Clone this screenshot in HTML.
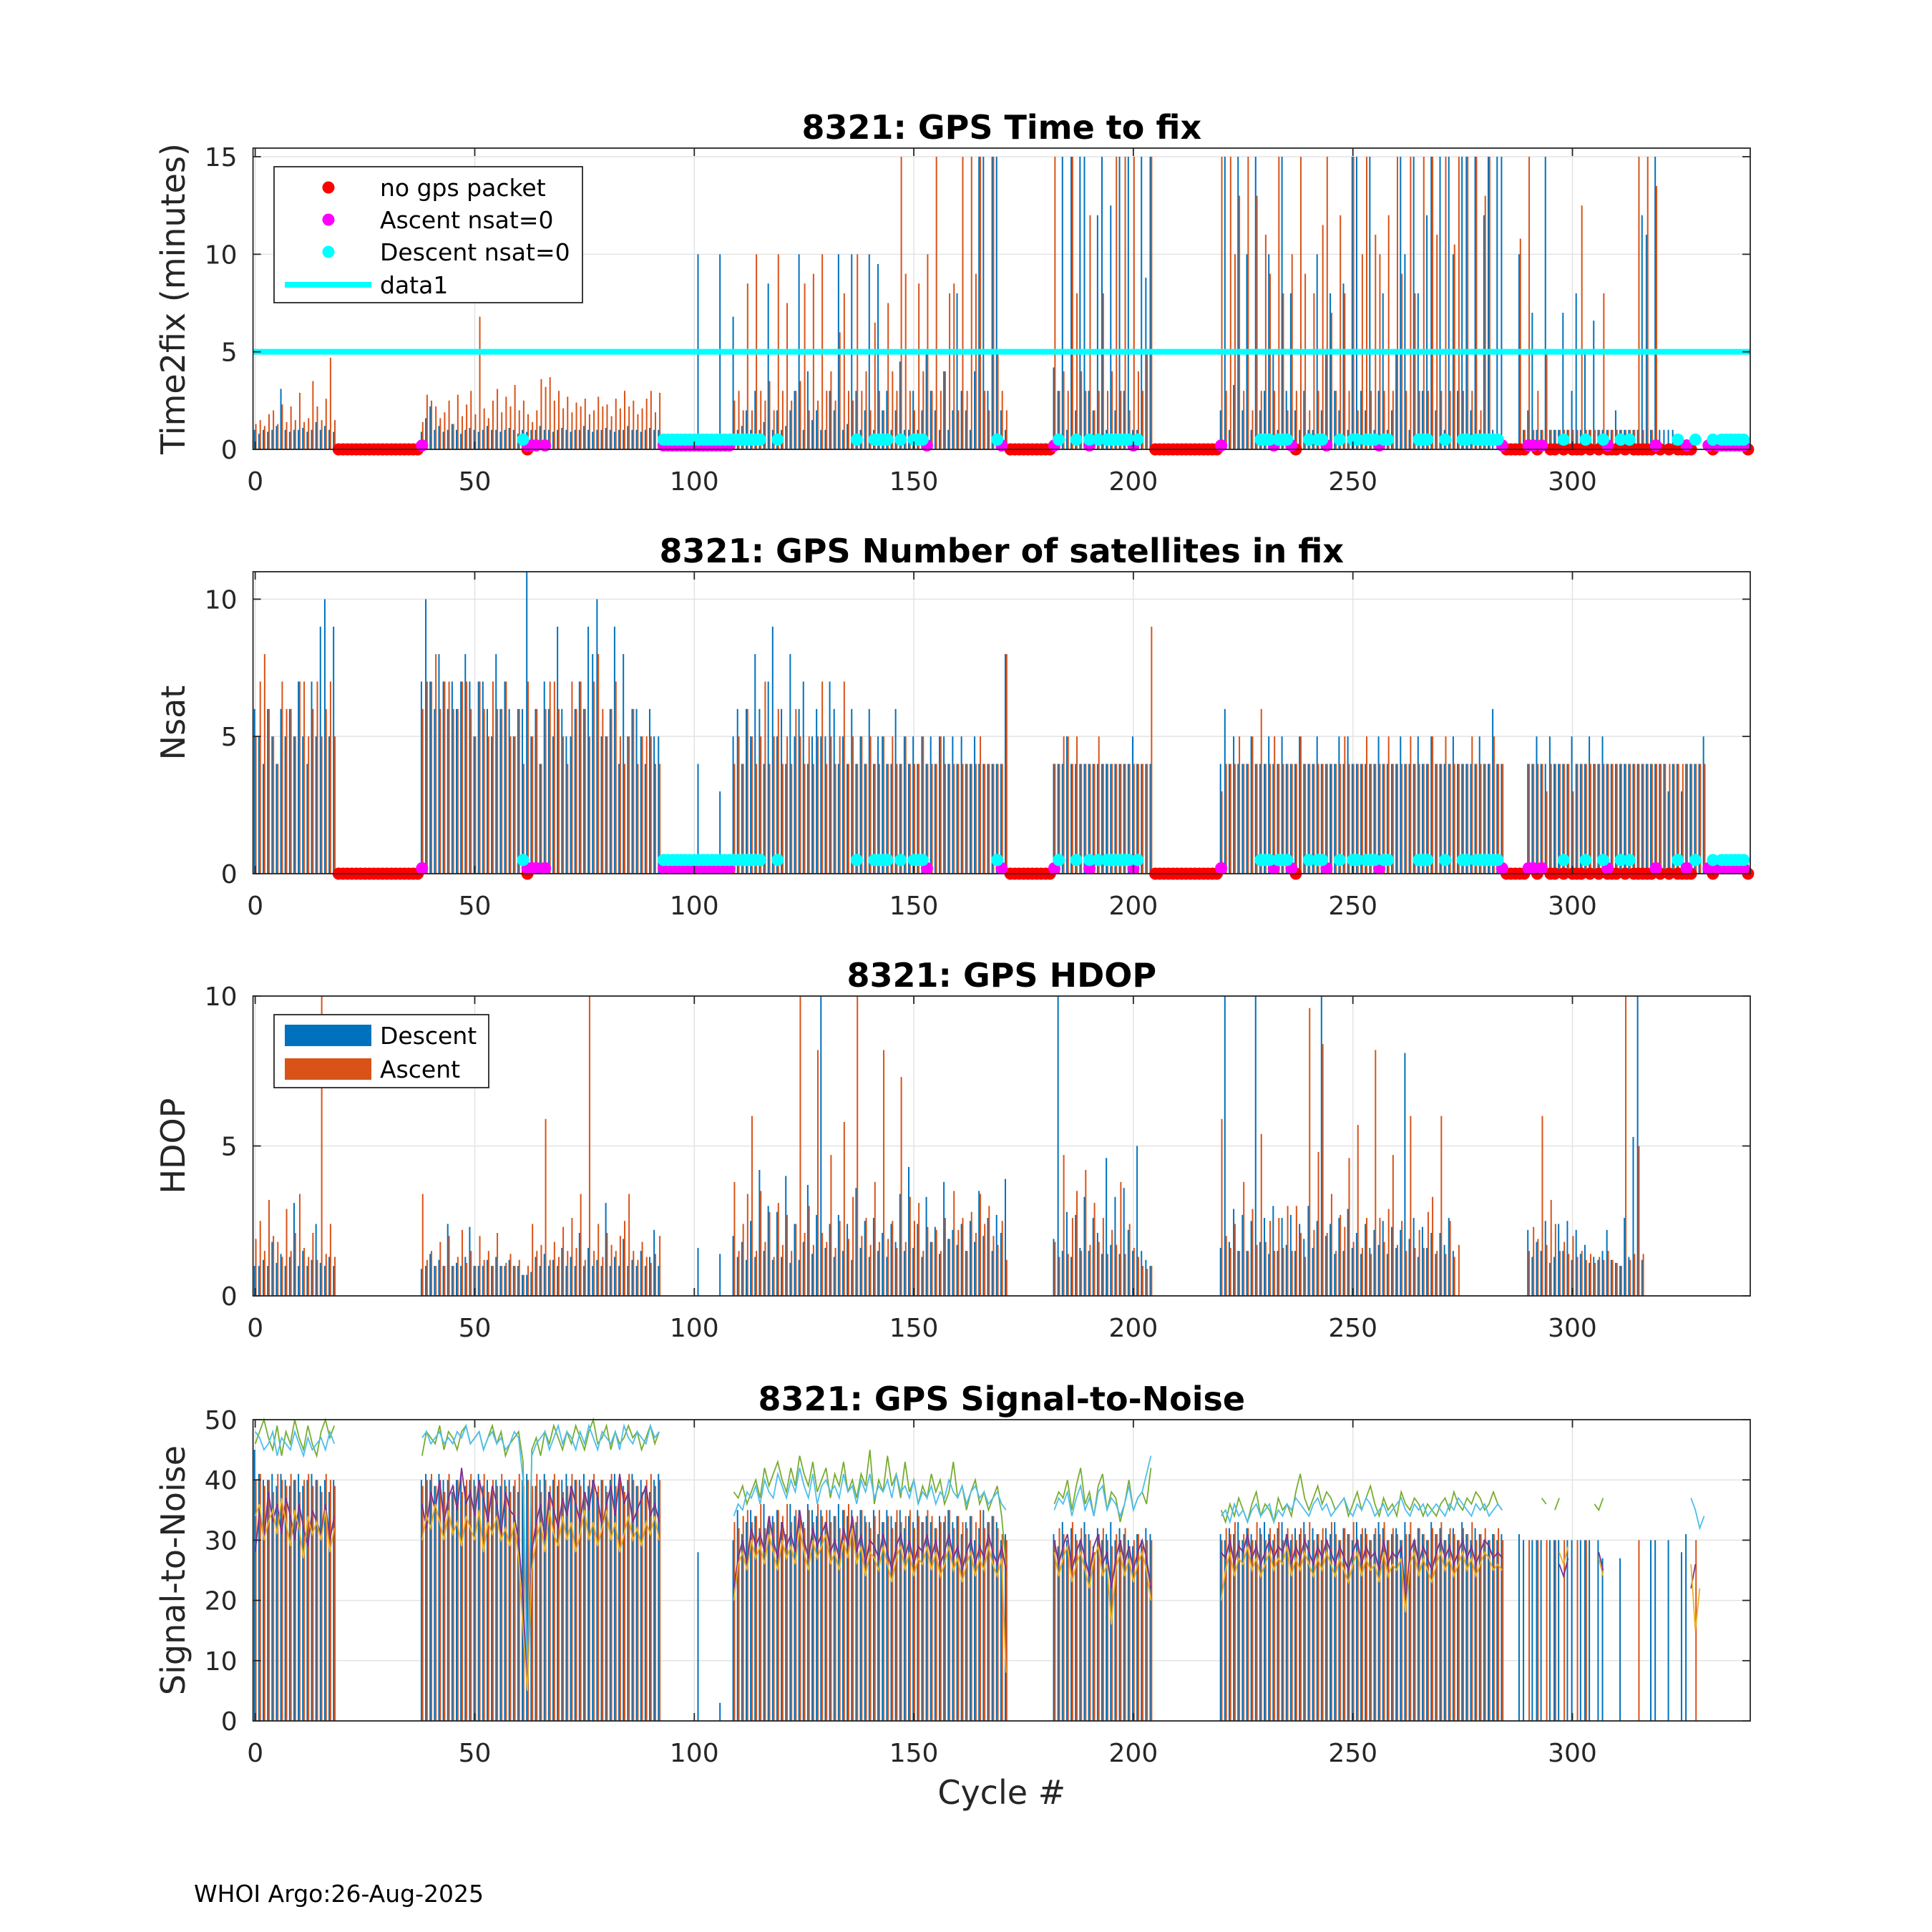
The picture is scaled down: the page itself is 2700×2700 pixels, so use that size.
<!DOCTYPE html>
<html><head><meta charset="utf-8"><style>
html,body{margin:0;padding:0;background:#fff}
svg{display:block;font-family:"DejaVu Sans","Liberation Sans",sans-serif}
</style></head><body>
<svg id="fig" width="2700" height="2700" viewBox="0 0 2700 2700" xmlns="http://www.w3.org/2000/svg">
<rect width="2700" height="2700" fill="#fff"/>
<g id="layer"></g>
<text x="271" y="2658" font-size="33" fill="#000">WHOI Argo:26-Aug-2025</text>
</svg>
<script>
// ---------- data (segments: [startCycle, values]) ----------
const xTicks=[0,50,100,150,200,250,300];
const ttfTicks=[0,5,10,15], nsatTicks=[0,5,10], hdopTicks=[0,5,10], snrTicks=[0,10,20,30,40,50];
const noPacketCycles=[19,20,21,22,23,24,25,26,27,28,29,30,31,32,33,34,35,36,37,62,172,173,174,175,176,177,178,179,180,181,205,206,207,208,209,210,211,212,213,214,215,216,217,218,219,237,285,286,287,288,289,292,295,296,298,300,301,302,304,306,308,309,310,312,314,315,316,317,318,320,322,324,325,326,327,332,340];
const ascNsat0Cycles=[38,62,63,64,66,93,94,95,96,97,98,99,100,101,102,103,104,105,106,107,108,153,170,182,190,200,220,232,236,244,256,284,290,291,293,308,319,326,331,333,334,335,336,337,338,339];
const descNsat0Cycles=[61,93,94,95,96,97,98,99,100,101,102,103,104,105,106,107,108,109,110,111,112,113,114,115,119,137,141,142,143,144,147,150,151,152,169,183,187,190,192,194,195,196,197,198,199,201,229,230,231,233,234,235,240,242,243,247,250,251,253,254,255,257,258,265,266,267,271,275,276,278,279,280,281,282,283,298,303,307,311,313,324,328,332,334,335,336,337,338,339];
const ttfDesc=[[0,[1,.8,1,.9,1,1.2,3.1,1,.9,1,1,1.1,.9,1,1.4,1,1.2,1,.9]],[38,[.9,1.6,2.2,1,1.2,.9,1,1.3,1,.8,1,1.1,1,.9,1,1.2,1,1,.9,1,1.1,1,.8,1,.9,1,1,1.2,1,1,.9,1,1.1,1,.9,1,1,1.2,1,.9,1,1,1.1,1,.9,1,1,1.2,1,1,.9,1,1.1,1,1]],[101,[10]],[106,[10]],[109,[6.8,1,1.2,2,1,3,1,1.4,8.5,1,2,1,1.2,2,3,10,1,4,1.5,2,1,1,3,2,10,1,1.3,10,3,1,2,10,1,9.5,2,3,1,2,4.5,1,1,3,1,2,5,3,2,1,4,1,2,8,3,2,1,4,15,15,3,15,15,2,1]],[182,[4.2,3,15,1,15,2,15,15,3,2,12,15,1,12.5,2,15,3,15,1,1,15,8.8,15]],[220,[2,15,1,3.3,15,2,10,1,15,2,3,10,5,1,15,3,8,2,1,3,1,1,10,2,5,8,3,2,8.5,1,15,15,3,2,15,1,3,8,1,2,5,15,10,1,15,8,3,12,15,2,15,1,15,10,3,15,15,2,15,1,12,15,1,15,15]],[288,[10,1,2,7,1,1,15,1,1,1,7,1,3,8,1,5,1,6.6,1,1,1,1,2,1,1,1,1,1,12,11,1,15,1,1,1,1]]];
const ttfAsc=[[0,[1.3,1.5,1.2,1.8,2,1.3,2.3,1.4,2.2,1.5,2.9,1.4,1.6,3.5,2.2,1.5,2.6,4.7,1.5]],[38,[1.4,2.8,2.5,2.2,1.6,1.9,2.5,1.3,2.8,1.7,2.3,3,1.8,6.8,2.1,1.6,2.5,3.1,1.9,2.7,2.2,3.3,2,2.5,1.8,1.4,2,3.6,3.2,3.7,2.5,3,2.1,2.7,1.9,2.4,2.2,2.6,1.8,2,2.7,2.2,2.3,1.7,2.6,2.1,3,2.2,2.5,1.8,2.1,2.6,3,1.9,2.9]],[109,[2.5,3,2,8.5,2,10,3,2.5,3.5,2,10,3,7.5,2.5,3,3.5,8.5,2,9,2.5,10,3,4,2.5,6,8,3,2.5,10,3,4,2,6.5,3,2,7.5,4,3,15,9,3,2,8.5,4,10,3,15,3,4,8,8.5,2,15,3,15,9,15,3,2,15,5,3,2]],[182,[15,3,4,3,15,8,4,3,12,2,3,8,3,4,15,3,15,2,15,4,3,5,15]],[220,[15,3,15,10,13,3,15,2,13,3,11,9,3,15,8,2,10,3,15,9,2,8,3,11.5,15,7,3,12,8,3,15,2,10,15,3,11,10,3,12,3,15,9,3,15,8,3,15,3,15,11,3,15,3,10.5,15,3,15,3,15,2,13,15]],[288,[10.8,1,15,1,3,1,5,1,1,1,1,1,1,1,12.5,1,1,1,1,8,1,1,1,1,1,1,1,15,1,15,1,13.5]]];
const nsatDesc=[[0,[6,5,4,6,5,4,6,5,6,5,7,5,4,7,5,9,10,5,9]],[38,[7,10,7,6,8,7,6,7,6,7,8,7,5,7,7,6,5,8,6,7,6,5,6,6,11,5,6,4,7,6,5,9,6,5,5,6,7,6,9,8,10,5,5,6,9,4,8,5,6,6,5,4,6,5,5]],[101,[4]],[106,[3]],[109,[5,6,4,6,5,8,6,4,7,9,5,6,4,8,5,6,7,4,5,6,5,5,7,6,4,5,4,6,4,5,4,6,4,5,5,4,4,6,4,5,4,5,4,5,4,5,4,5,5,4,5,4,5,4,4,5,4,4,4,4,4,4,8]],[182,[4,4,4,5,4,4,4,4,4,4,4,4,4,4,4,4,4,4,5,4,4,4,4]],[220,[4,6,4,5,4,4,4,5,4,4,4,5,4,4,5,4,4,4,5,4,4,4,5,4,4,4,4,5,4,5,4,4,4,4,4,4,5,4,4,4,4,5,4,4,4,5,4,4,5,4,4,4,4,5,4,4,4,4,4,5,4,4,6,4,4]],[290,[4,4,5,4,4,5,4,4,4,4,5,4,4,4,5,4,4,5,4,4,4,4,4,4,4,4,4,4,4,4,4,4,3,4,4,3,4,4,4,4,5]]];
const nsatAsc=[[0,[5,7,8,6,5,4,7,6,6,5,7,7,5,6,7,5,6,7,5]],[38,[6,7,7,8,6,7,7,6,6,7,7,6,5,7,6,5,7,6,6,7,5,5,6,4,7,5,6,4,6,7,7,6,5,4,7,6,7,6,5,7,8,6,5,6,7,5,4,5,6,4,5,5,5,4,4]],[109,[4,5,4,6,5,4,5,7,4,5,6,4,5,4,6,5,4,5,4,5,7,4,5,4,5,7,4,5,4,5,4,5,4,4,5,4,5,4,4,5,4,4,4,5,4,4,4,5,4,4,4,4,4,4,4,4,5,4,4,4,4,4,8]],[182,[4,4,5,5,4,5,4,4,4,4,5,4,4,4,4,4,4,4,4,4,4,4,9]],[220,[3,4,4,4,5,4,4,5,4,6,4,4,5,4,4,4,4,4,5,4,4,4,4,4,4,4,4,4,5,4,4,4,4,5,4,4,4,4,5,4,4,4,4,5,4,4,4,4,5,4,4,5,4,4,4,4,4,5,4,4,4,4,5,4,4]],[290,[4,4,4,4,3,4,4,4,4,4,3,4,4,4,4,4,4,4,4,4,4,4,4,4,4,4,4,4,4,4,4,4,4,4,4,4,4,4,4,4,4]]];
const hdopDesc=[[0,[1,1,1.2,1,1.8,1.1,1.4,1,1.3,3.1,1,1.5,1,1.2,2.4,1.1,1,1.3,1]],[38,[.9,1,1.4,1,1.2,1,2.4,1,1.1,1,1.3,2.3,1,1,1,1.2,1,1.3,1,1,1.2,1,1,.7,.7,.8,1.3,1,1.4,1,1.2,1,1.6,1,1.3,1,2.1,1,1.6,1,1.2,1,3.1,1,1.3,1,1.9,1,1.2,1,1.5,1,1.3,2.2,1]],[101,[1.6]],[106,[1.4]],[109,[2,1.3,1.8,1.2,2.5,1.3,4.2,1.5,3,1.2,2.8,1.3,4,1.1,2.4,1.2,1.8,3.7,1.4,2.7,10,1.6,2.4,1.3,2.7,1.5,2.4,1.2,3.6,1.6,2.5,1.3,2.6,1.5,2.1,1.3,2.4,1.8,3.4,1.5,4.3,1.6,2.4,1.3,3.3,1.8,2.3,1.4,3.8,1.9,2.2,1.7,2.4,1.5,2.5,1.8,3.5,2,2.6,1.5,2.7,2.1,3.9]],[182,[1.9,10,1.5,2.8,1.3,2.7,1.6,3.3,1.5,2.6,2.1,1.4,4.6,1.7,3.3,1.4,3.6,2.2,1.5,5,1.5,1.2,1]],[220,[1.6,10,1.8,2.9,1.5,2.7,1.5,2.5,10,1.8,2.6,1.4,3,1.5,2.6,1.7,2.7,1.5,2.4,1.9,3,1.6,2.5,10,2,2.4,1.4,2.6,1.5,2.9,1.6,2.1,1.4,2.4,1.6,2.2,1.7,2.5,1.4,2.3,1.6,2.2,8.1,1.9,2.6,1.3,2.3,1.6,2.1,1.4,2.1,1.7,2.6,1.5]],[290,[2.2,1.3,1.8,1.5,2.5,1.1,1.3,2.4,1.5,2.5,1.2,2.2,1.4,1.7,1.1,1.3,1.2,1.5,2.2,1.2,1.1,1,2.6,1.3,5.3,10,1.2]]];
const hdopAsc=[[0,[1.9,2.5,1.5,3.2,2,1.8,1.3,2.9,1.5,2.1,3.4,1.6,1.3,2.1,1.2,10,1.4,2.4,1.3]],[38,[3.4,1.2,1.5,1,1.8,1,2,1,1.3,2.2,1.1,1.5,1,2,1.2,1.5,1,2.1,1,1.1,1.4,1,1.2,.7,1,2.4,1.5,1.7,5.9,1.2,1.8,1.3,2.3,1.5,2.6,1.6,3.4,1.2,10,1.5,2.4,1.3,2.1,1.7,1.5,2,2.5,3.4,1.5,1.2,1.8,1.3,1.1,1.4,2]],[109,[3.8,1.5,2.4,3.4,6,1.5,3.5,1.8,2.8,1.3,3.1,1.7,2.7,1.5,2.4,10,2.1,3,1.7,8.2,2.1,1.8,4.7,1.6,2.5,5.8,1.9,3.3,10,2,2.6,1.7,3.8,1.8,8.2,1.9,2.5,1.6,7.3,1.8,3.3,2.5,3.1,1.5,2.3,1.8,2.2,1.5,2.6,1.9,3.5,2.2,2.6,1.5,2.8,2.1,3.4,2.4,3,2,1.7,2.5,1.2]],[182,[1.8,1.3,4.7,1.4,2.6,3.5,1.5,4.2,1.7,3.1,1.8,2.6,1.4,2.2,1.7,3.8,1.4,2.4,1.6,1.3,1,.9,1]],[220,[5.9,2,1.6,2.4,1.5,3.8,1.5,2.9,1.7,5.4,1.8,2.5,1.5,2.6,1.6,3,1.5,3,2.1,1.3,9.6,2.2,4.8,8.4,2.1,3.4,1.5,2.7,2.3,4.6,1.8,5.7,1.6,2.6,1.4,8.2,2.6,1.8,2.9,4.7,1.7,2.5,1.5,6,1.6,2.2,1.6,2.8,3.3,1.5,6,1.4,2.5,1.3,1.7]],[290,[1.5,2.3,1.9,6,1.7,3.2,2.4,1.5,1.8,1.4,2,1.3,1.5,1.2,1.4,1.1,1.3,1.2,1.5,1.2,1.1,1,10,1.2,1.4,5,1.4]]];
const snrDesc=[[0,[45,41,40,40,41,39,41,40,39,40,41,39,40,41,40,39,40,38,40]],[38,[40,41,40,39,41,40,40,38,40,41,39,40,40,41,39,40,38,40,39,40,40,39,38,40,41,40,39,40,41,38,40,39,40,41,39,40,40,41,39,40,38,40,39,40,41,40,39,40,41,39,40,39,38,40,41]],[101,[28]],[106,[3]],[109,[30,35,31,33,35,34,32,36,33,34,35,33,31,36,34,35,33,36,35,34,35,33,35,34,36,35,34,35,33,35,34,33,35,31,33,35,34,33,35,32,34,33,35,33,34,33,32,34,33,35,33,34,31,33,34,30,32,35,33,34,33,30,31]],[182,[31,29,33,30,32,31,30,33,31,29,32,30,31,33,30,32,31,30,29,31,30,32,31]],[220,[31,30,32,31,33,30,32,31,30,32,33,31,30,32,33,31,30,32,31,33,30,32,31,30,32,31,33,30,32,31,30,33,31,32,30,31,33,32,30,31,32,30,33,31,30,32,31,30,33,31,32,30,31,32,30,33,31,30,32,31,30,30,31,30,31]],[288,[31,30,0,30,30,30,0,30,30,30,0,30,30,0,30,30,30,0,30,27,0,0,0,27,0,0,0,0,0,0,30,30,0,0,30,0,0,28,31]]];
const snrAsc=[[0,[40,41,39,40,38,41,40,39,41,40,38,40,41,39,40,38,41,40,39]],[38,[39,40,41,39,40,38,41,39,40,38,40,41,39,40,41,38,40,39,41,39,38,40,41,39,40,39,41,38,40,39,41,40,38,39,41,40,39,38,40,41,39,40,38,41,39,40,38,41,40,39,38,40,41,39,40]],[109,[33,32,34,35,33,34,36,32,34,33,35,34,36,33,35,34,32,35,33,36,34,35,33,34,32,35,36,33,34,35,33,32,34,35,33,34,32,35,33,34,35,32,34,33,35,34,32,33,34,35,32,34,33,32,34,33,35,32,33,34,32,31,30]],[182,[30,32,31,29,33,30,32,31,30,28,31,32,30,29,31,30,32,29,30,31,29,30,30]],[220,[30,32,31,33,30,31,32,30,33,31,30,32,31,33,30,32,31,30,32,31,33,30,31,32,30,33,31,30,32,31,33,30,32,31,30,32,31,33,30,32,31,30,31,33,30,32,31,30,32,31,33,30,32,31,30,32,31,33,30,31,32,30,31,32,30]],[290,[30,0,30,0,30,0,30,0,30,0,0,30,0,30,0,0,0,0,0,0,0,0,0,0,0,30,0,0,0,0,0,0,0,0,0,0,0,0,30]]];
const snrGreen=[[0,[46,48,50,47,45,49,44,48,46,50,47,45,49,46,44,48,50,47,49]],[38,[44,48,47,46,49,45,48,47,45,48,49,46,47,48,45,47,49,46,48,44,46,47,48,43,5,45,47,44,48,46,49,47,45,48,46,49,47,45,48,50,46,47,49,45,48,46,47,49,47,48,45,47,49,46,48]],[109,[38,37,39,36,38,40,37,42,39,41,43,40,38,42,39,44,41,39,43,38,40,42,37,41,39,43,38,40,37,41,39,45,36,40,38,44,39,41,37,43,38,40,36,39,37,41,38,40,36,38,43,37,39,35,38,40,36,38,35,37,39,34,26]],[182,[36,38,37,40,35,39,42,36,38,34,39,41,35,38,37,33,36,40,35,37,38,36,42]],[220,[35,33,36,34,37,35,33,36,38,34,36,35,33,37,35,36,34,38,41,37,35,37,39,36,38,37,35,36,37,34,36,38,35,37,39,36,34,37,35,36,34,38,36,35,37,36,34,36,35,34,36,37,35,38,36,35,37,36,38,37,35,36,38,36,35]],[293,[37,36]],[296,[35,37]],[305,[36,35,37]]];
const snrBlue=[[0,[48,47,45,46,48,44,47,46,45,48,46,44,47,45,46,47,45,48,46]],[38,[47,48,46,47,48,46,47,46,48,47,49,46,47,48,45,47,48,46,47,45,46,48,47,40,6,44,46,47,48,45,47,49,46,48,47,45,48,46,49,47,45,48,47,46,48,45,49,47,46,48,47,46,49,47,48]],[109,[34,36,35,38,37,39,36,40,38,37,41,39,37,40,38,42,39,37,41,36,39,40,38,39,37,41,38,39,36,40,38,41,37,39,38,40,37,41,38,39,37,40,36,38,37,39,36,38,37,40,38,37,39,36,38,39,37,38,36,37,38,36,35]],[182,[35,37,36,38,34,37,39,35,37,34,38,39,35,37,36,34,36,39,35,37,38,41,44]],[220,[34,35,33,36,34,35,33,35,36,34,35,36,33,35,34,36,35,37,36,35,34,36,37,35,36,34,35,36,37,35,34,36,35,37,36,34,35,36,34,35,36,37,35,34,36,35,36,34,35,36,35,34,36,35,37,36,35,34,36,35,36,34,35,36,35]],[327,[37,35,32,34]]];
const snrPurple=[[0,[28,35,30,38,33,36,31,37,34,30,36,32,29,35,33,31,36,30,34]],[38,[36,32,38,35,40,33,37,39,35,42,36,38,34,40,37,33,39,36,31,38,35,34,30,20,5,28,33,36,30,38,35,32,37,34,39,36,33,38,35,40,37,32,36,39,34,41,36,38,33,35,37,39,34,36,33]],[109,[22,27,30,26,32,29,31,28,34,30,27,33,29,31,28,35,30,27,32,29,31,33,28,30,27,32,29,34,28,31,26,30,29,27,31,28,25,29,31,27,30,26,29,28,31,27,30,26,28,31,27,29,25,28,30,26,29,27,31,28,26,29,25]],[182,[30,26,29,31,25,28,30,27,24,29,31,26,28,22,27,30,26,29,25,28,30,27,22]],[220,[28,27,30,26,29,28,31,27,29,26,28,30,27,29,28,31,26,29,27,30,28,26,29,27,30,28,26,29,27,25,28,30,26,29,27,28,25,30,26,28,27,29,20,28,30,26,29,27,25,28,30,27,29,26,28,30,27,29,26,28,30,29,27,28,27]],[297,[26,24,27]],[306,[28,25]],[327,[22,26]]];
const snrYellow=[[0,[34,36,30,33,35,31,37,33,29,35,32,27,34,31,33,30,35,28,32]],[38,[30,34,32,36,33,30,35,31,33,29,34,32,30,35,28,33,31,34,30,32,29,33,27,15,5,25,30,33,28,35,31,29,34,30,33,28,31,35,30,33,29,32,35,30,33,28,31,34,30,32,29,33,31,34,30]],[109,[20,26,28,25,30,27,29,26,31,28,25,30,27,29,26,32,28,25,30,27,29,31,26,28,25,30,27,32,26,29,24,28,27,25,29,26,23,27,29,25,28,24,27,26,29,25,28,24,26,29,25,27,23,26,28,24,27,25,29,26,24,27,8]],[182,[28,24,27,29,23,26,28,25,22,27,29,24,26,16,25,28,24,27,23,26,28,25,20]],[220,[20,25,28,24,27,26,29,25,27,24,26,28,25,27,26,29,24,27,25,28,26,24,27,25,28,26,24,27,25,23,26,28,24,27,25,26,23,28,24,26,25,27,18,26,28,24,27,25,23,26,28,25,27,24,26,28,25,27,24,26,28,27,25,26,25]],[297,[28,26,29]],[306,[27,24]],[327,[26,15,22]]];
const ttfThreshold=5;

// ---------- geometry ----------
const NS='http://www.w3.org/2000/svg';
const layer=document.getElementById('layer');
const X0=353.6, X1=2446, XMIN=-0.5, XMAX=340.5;
const xS=c=>X0+(c-XMIN)/(XMAX-XMIN)*(X1-X0);
const panels=[
 {key:'ttf',top:207,bot:628,ymax:15.44,ticks:ttfTicks,title:'8321: GPS Time to fix',ylab:'Time2fix (minutes)'},
 {key:'nsat',top:799,bot:1221,ymax:11,ticks:nsatTicks,title:'8321: GPS Number of satellites in fix',ylab:'Nsat'},
 {key:'hdop',top:1392,bot:1811,ymax:10,ticks:hdopTicks,title:'8321: GPS HDOP',ylab:'HDOP'},
 {key:'snr',top:1984,bot:2405,ymax:50,ticks:snrTicks,title:'8321: GPS Signal-to-Noise',ylab:'Signal-to-Noise'}];
function mk(tag,attrs,parent,text){const e=document.createElementNS(NS,tag);for(const k in attrs)e.setAttribute(k,attrs[k]);if(text!==undefined)e.textContent=text;(parent||layer).appendChild(e);return e;}
function yS(p,v){return p.bot-Math.min(v,p.ymax)/p.ymax*(p.bot-p.top);}

function drawBars(p,segs,color,off,g,name){
  segs.forEach(([s,vals])=>vals.forEach((v,i)=>{ if(!v) return;
    const x=xS(s+i+off), y=yS(p,v);
    const r=mk('rect',{x:x-1,y:y,width:2,height:p.bot-y,fill:color},g);
    
    
  }));
}
function drawLine(p,segs,color,g,name){
  segs.forEach(([s,vals])=>{
    const pts=vals.map((v,i)=>xS(s+i).toFixed(1)+','+yS(p,v).toFixed(1)).join(' ');
    const l=mk('polyline',{points:pts,fill:'none',stroke:color,'stroke-width':1.8},g);
    
    
  });
}
function drawDots(p,cyc,val,color,g,name){
  cyc.forEach(c=>{const d=mk('circle',{cx:xS(c),cy:yS(p,val),r:8.5,fill:color},g);
    
    });
}

panels.forEach((p,pi)=>{
  const g=mk('g',{});
  
  
  xTicks.forEach(t=>mk('line',{x1:xS(t),x2:xS(t),y1:p.top,y2:p.bot,stroke:'#e3e3e3','stroke-width':1.5},g));
  p.ticks.forEach(t=>mk('line',{x1:X0,x2:X1,y1:yS(p,t),y2:yS(p,t),stroke:'#e3e3e3','stroke-width':1.5},g));
  const bars=mk('g',{},g);
  
  
  if(p.key==='ttf'){drawBars(p,ttfDesc,'#0072BD',-0.15,bars,'descent-bar');drawBars(p,ttfAsc,'#D95319',0.15,bars,'ascent-bar');}
  if(p.key==='nsat'){drawBars(p,nsatDesc,'#0072BD',-0.15,bars,'descent-bar');drawBars(p,nsatAsc,'#D95319',0.15,bars,'ascent-bar');}
  if(p.key==='hdop'){drawBars(p,hdopDesc,'#0072BD',-0.15,bars,'descent-bar');drawBars(p,hdopAsc,'#D95319',0.15,bars,'ascent-bar');}
  if(p.key==='snr'){
    drawBars(p,snrDesc,'#0072BD',-0.15,bars,'descent-bar');drawBars(p,snrAsc,'#D95319',0.15,bars,'ascent-bar');
    drawLine(p,snrGreen,'#77AC30',bars,'snr-line-1');drawLine(p,snrBlue,'#4DBEEE',bars,'snr-line-2');
    drawLine(p,snrPurple,'#7E2F8E',bars,'snr-line-3');drawLine(p,snrYellow,'#EDB120',bars,'snr-line-4');
  }
  if(p.key==='ttf'||p.key==='nsat'){
    drawDots(p,noPacketCycles,0,'#FF0000',bars,'no-gps-packet-marker');
    drawDots(p,ascNsat0Cycles,0.2,'#FF00FF',bars,'ascent-nsat0-marker');
    drawDots(p,descNsat0Cycles,0.5,'#00FFFF',bars,'descent-nsat0-marker');
  }
  if(p.key==='ttf'){const l=mk('line',{x1:X0,x2:X1,y1:yS(p,ttfThreshold),y2:yS(p,ttfThreshold),stroke:'#00FFFF','stroke-width':8},g);
    
    }
  mk('rect',{x:X0,y:p.top,width:X1-X0,height:p.bot-p.top,fill:'none',stroke:'#262626','stroke-width':1.8},g);
  xTicks.forEach(t=>{const x=xS(t);
    mk('line',{x1:x,x2:x,y1:p.bot,y2:p.bot-11,stroke:'#262626','stroke-width':1.8},g);
    mk('line',{x1:x,x2:x,y1:p.top,y2:p.top+11,stroke:'#262626','stroke-width':1.8},g);
    const tl=mk('text',{x:x,y:p.bot+57,'font-size':36,'text-anchor':'middle',fill:'#262626'},g,String(t));
    
    });
  p.ticks.forEach(t=>{const y=yS(p,t);
    mk('line',{x1:X0,x2:X0+11,y1:y,y2:y,stroke:'#262626','stroke-width':1.8},g);
    mk('line',{x1:X1,x2:X1-11,y1:y,y2:y,stroke:'#262626','stroke-width':1.8},g);
    const tl=mk('text',{x:X0-22,y:y+13,'font-size':36,'text-anchor':'end',fill:'#262626'},g,String(t));
    
    });
  const ti=mk('text',{x:(X0+X1)/2,y:p.top-13,'font-size':46,'font-weight':'bold','text-anchor':'middle',fill:'#000'},g,p.title);
  
  
  const cy=(p.top+p.bot)/2;
  const yl=mk('text',{x:258,y:cy,'font-size':46,'text-anchor':'middle',fill:'#262626',transform:`rotate(-90 258 ${cy})`},g,p.ylab);
  
  
});
const xl=mk('text',{x:(X0+X1)/2,y:2521,'font-size':46,'text-anchor':'middle',fill:'#262626'},layer,'Cycle #');



const lg1=mk('g',{});


mk('rect',{x:383,y:233,width:431,height:190,fill:'#fff',stroke:'#262626','stroke-width':1.8},lg1);
[['no gps packet','#FF0000'],['Ascent nsat=0','#FF00FF'],['Descent nsat=0','#00FFFF']].forEach(([t,c],i)=>{
  const y=262+i*45;
  mk('circle',{cx:459,cy:y,r:8.5,fill:c},lg1);
  const e=mk('text',{x:531,y:y+12,'font-size':33,fill:'#000'},lg1,t);
  
  
});
mk('line',{x1:398,x2:519,y1:398,y2:398,stroke:'#00FFFF','stroke-width':8},lg1);
const d1=mk('text',{x:531,y:410,'font-size':33,fill:'#000'},lg1,'data1');



const lg3=mk('g',{});


mk('rect',{x:383,y:1418,width:300,height:102,fill:'#fff',stroke:'#262626','stroke-width':1.8},lg3);
[['Descent','#0072BD'],['Ascent','#D95319']].forEach(([t,c],i)=>{
  const y=1447+i*47;
  mk('rect',{x:398,y:y-15,width:121,height:30,fill:c},lg3);
  const e=mk('text',{x:531,y:y+12,'font-size':33,fill:'#000'},lg3,t);
  
  
});
</script>
</body></html>
